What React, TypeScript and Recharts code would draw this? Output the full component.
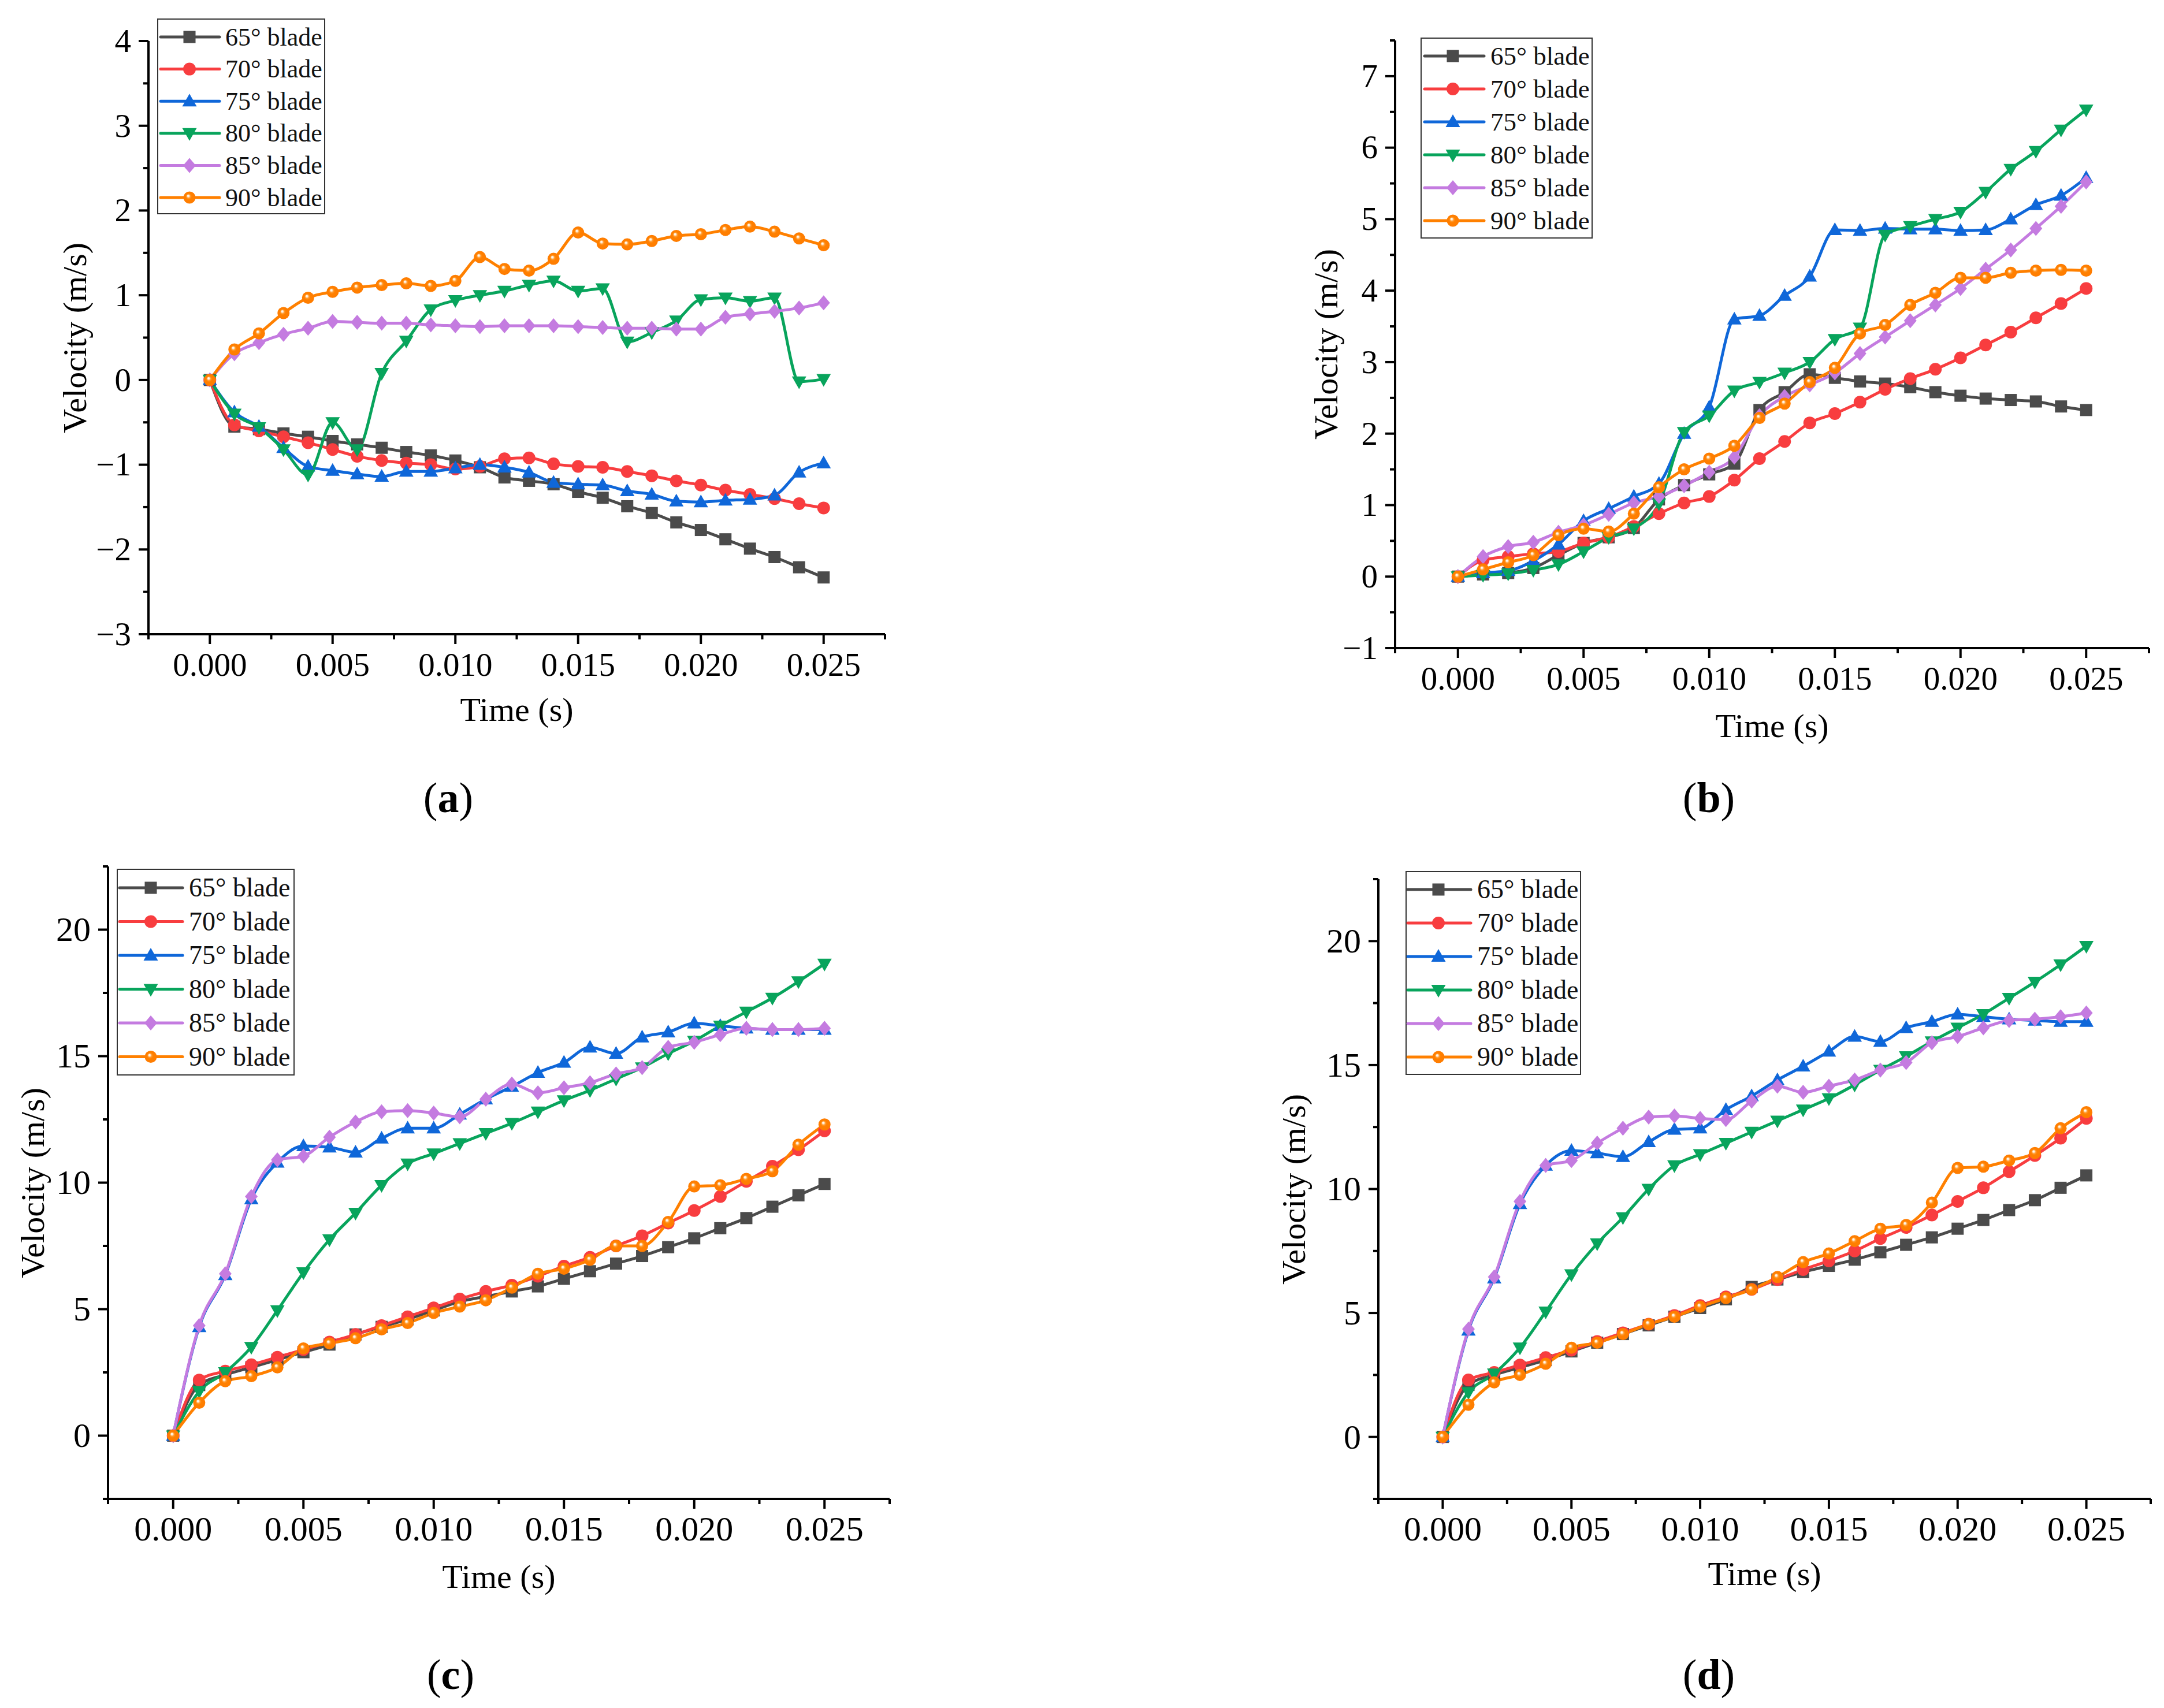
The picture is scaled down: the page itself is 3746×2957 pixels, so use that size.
import React from 'react';
import { LineChart, Line, XAxis, YAxis, Legend } from 'recharts';

// time samples (s)
const TIME = [
  0, 0.001, 0.002, 0.003, 0.004, 0.005, 0.006, 0.007, 0.008, 0.009, 0.01, 0.011, 0.012,
  0.013, 0.014, 0.015, 0.016, 0.017, 0.018, 0.019, 0.02, 0.021, 0.022, 0.023, 0.024, 0.025,
];

// panel (a)
const A65 = [0, -0.55, -0.58, -0.63, -0.67, -0.72, -0.76, -0.8, -0.85, -0.89, -0.95, -1.03, -1.15, -1.19, -1.23, -1.32, -1.39, -1.49, -1.57, -1.68, -1.77, -1.88, -1.99, -2.09, -2.21, -2.33];
const A70 = [0, -0.53, -0.6, -0.67, -0.74, -0.82, -0.9, -0.95, -0.98, -1.0, -1.05, -1.02, -0.93, -0.92, -0.99, -1.02, -1.03, -1.08, -1.13, -1.19, -1.24, -1.3, -1.35, -1.4, -1.46, -1.51];
const A75 = [0, -0.38, -0.55, -0.8, -1.02, -1.07, -1.11, -1.14, -1.08, -1.08, -1.04, -1.0, -1.03, -1.09, -1.21, -1.23, -1.24, -1.31, -1.35, -1.43, -1.44, -1.42, -1.41, -1.36, -1.09, -0.98];
const A80 = [0, -0.4, -0.56, -0.82, -1.12, -0.5, -0.82, 0.08, 0.46, 0.83, 0.94, 1.0, 1.05, 1.12, 1.17, 1.05, 1.08, 0.45, 0.56, 0.7, 0.95, 0.97, 0.93, 0.97, -0.02, 0.01];
const A85 = [0, 0.31, 0.44, 0.54, 0.61, 0.69, 0.68, 0.67, 0.67, 0.65, 0.64, 0.63, 0.64, 0.64, 0.64, 0.63, 0.62, 0.61, 0.61, 0.6, 0.6, 0.74, 0.78, 0.81, 0.85, 0.91];
const A90 = [0, 0.36, 0.55, 0.79, 0.97, 1.04, 1.09, 1.12, 1.14, 1.11, 1.17, 1.45, 1.31, 1.29, 1.43, 1.74, 1.61, 1.6, 1.64, 1.7, 1.72, 1.77, 1.81, 1.75, 1.67, 1.59];

// panel (b)
const B65 = [0, 0.03, 0.05, 0.12, 0.3, 0.47, 0.55, 0.68, 1.08, 1.28, 1.43, 1.58, 2.33, 2.58, 2.83, 2.78, 2.73, 2.7, 2.65, 2.58, 2.53, 2.49, 2.47, 2.45, 2.38, 2.33];
const B70 = [0, 0.23, 0.28, 0.32, 0.35, 0.47, 0.55, 0.7, 0.88, 1.03, 1.12, 1.35, 1.65, 1.89, 2.15, 2.28, 2.44, 2.62, 2.77, 2.9, 3.06, 3.24, 3.42, 3.62, 3.82, 4.03];
const B75 = [0, 0.05, 0.08, 0.22, 0.45, 0.78, 0.95, 1.12, 1.3, 2.0, 2.37, 3.6, 3.65, 3.93, 4.2, 4.85, 4.84, 4.87, 4.86, 4.86, 4.84, 4.85, 5.0, 5.2, 5.33, 5.58];
const B80 = [0, 0.02, 0.04, 0.09, 0.17, 0.35, 0.55, 0.67, 1.02, 2.02, 2.25, 2.6, 2.72, 2.85, 3.0, 3.32, 3.48, 4.78, 4.9, 5.0, 5.1, 5.38, 5.7, 5.95, 6.25, 6.53];
const B85 = [0, 0.28, 0.42, 0.48, 0.62, 0.72, 0.87, 1.03, 1.12, 1.27, 1.46, 1.67, 2.25, 2.52, 2.68, 2.85, 3.12, 3.35, 3.58, 3.8, 4.03, 4.3, 4.57, 4.87, 5.18, 5.52];
const B90 = [0, 0.1, 0.2, 0.3, 0.58, 0.67, 0.63, 0.88, 1.25, 1.5, 1.65, 1.83, 2.22, 2.42, 2.72, 2.92, 3.4, 3.52, 3.8, 3.97, 4.18, 4.18, 4.25, 4.28, 4.29, 4.28];

// panel (c)
const C65 = [0, 2.0, 2.4, 2.7, 3.0, 3.3, 3.6, 4.0, 4.3, 4.6, 4.95, 5.3, 5.5, 5.7, 5.9, 6.2, 6.5, 6.8, 7.1, 7.45, 7.8, 8.2, 8.6, 9.05, 9.5, 9.95];
const C70 = [0, 2.2, 2.55, 2.8, 3.1, 3.4, 3.7, 4.0, 4.35, 4.7, 5.05, 5.4, 5.7, 5.95, 6.3, 6.7, 7.05, 7.5, 7.9, 8.4, 8.9, 9.45, 10.05, 10.65, 11.3, 12.05];
const C75 = [0, 4.3, 6.35, 9.35, 10.8, 11.45, 11.4, 11.2, 11.75, 12.15, 12.15, 12.7, 13.3, 13.8, 14.35, 14.75, 15.35, 15.1, 15.75, 15.95, 16.3, 16.2, 16.1, 16.05, 16.05, 16.05];
const C80 = [0, 1.75, 2.5, 3.5, 4.95, 6.45, 7.75, 8.8, 9.9, 10.75, 11.15, 11.55, 11.95, 12.35, 12.8, 13.25, 13.65, 14.1, 14.55, 15.1, 15.6, 16.2, 16.75, 17.3, 17.95, 18.65];
const C85 = [0, 4.35, 6.4, 9.45, 10.9, 11.05, 11.8, 12.4, 12.8, 12.85, 12.75, 12.6, 13.3, 13.9, 13.55, 13.75, 13.95, 14.3, 14.55, 15.35, 15.55, 15.85, 16.1, 16.05, 16.05, 16.1];
const C90 = [0, 1.3, 2.15, 2.35, 2.7, 3.45, 3.65, 3.85, 4.2, 4.45, 4.85, 5.1, 5.35, 5.85, 6.4, 6.6, 6.95, 7.5, 7.5, 8.45, 9.85, 9.9, 10.15, 10.45, 11.5, 12.3];

// panel (d)
const D65 = [0, 2.1, 2.5, 2.8, 3.1, 3.45, 3.8, 4.15, 4.5, 4.85, 5.2, 5.55, 6.05, 6.35, 6.65, 6.9, 7.15, 7.45, 7.75, 8.05, 8.4, 8.75, 9.15, 9.55, 10.05, 10.55];
const D70 = [0, 2.3, 2.6, 2.9, 3.2, 3.5, 3.85, 4.2, 4.55, 4.9, 5.3, 5.65, 5.95, 6.35, 6.75, 7.1, 7.5, 8.0, 8.45, 8.95, 9.5, 10.05, 10.7, 11.35, 12.05, 12.85];
const D75 = [0, 4.3, 6.4, 9.4, 10.95, 11.55, 11.45, 11.3, 11.9, 12.4, 12.45, 13.2, 13.75, 14.4, 14.95, 15.55, 16.15, 15.95, 16.5, 16.75, 17.05, 16.95, 16.85, 16.8, 16.75, 16.75];
const D80 = [0, 1.8, 2.55, 3.6, 5.05, 6.55, 7.8, 8.85, 10.0, 10.95, 11.4, 11.85, 12.3, 12.75, 13.2, 13.65, 14.2, 14.8, 15.35, 15.95, 16.5, 17.05, 17.7, 18.35, 19.05, 19.8];
const D85 = [0, 4.35, 6.45, 9.5, 10.95, 11.15, 11.85, 12.45, 12.9, 12.95, 12.85, 12.8, 13.55, 14.15, 13.9, 14.15, 14.4, 14.8, 15.1, 15.9, 16.15, 16.5, 16.8, 16.85, 16.95, 17.1];
const D90 = [0, 1.3, 2.2, 2.5, 2.95, 3.6, 3.8, 4.15, 4.55, 4.85, 5.25, 5.6, 5.95, 6.45, 7.05, 7.4, 7.9, 8.4, 8.55, 9.45, 10.85, 10.9, 11.15, 11.45, 12.45, 13.1];

// axis ticks
const X_TICKS = [-0.0025, 0, 0.0025, 0.005, 0.0075, 0.01, 0.0125, 0.015, 0.0175, 0.02, 0.0225, 0.025, 0.0275];
const X_MAJOR = [0, 0.005, 0.01, 0.015, 0.02, 0.025];
const A_Y_TICKS = [-3, -2.5, -2, -1.5, -1, -0.5, 0, 0.5, 1, 1.5, 2, 2.5, 3, 3.5, 4];
const A_Y_MAJOR = [-3, -2, -1, 0, 1, 2, 3, 4];
const B_Y_TICKS = [-1, -0.5, 0, 0.5, 1, 1.5, 2, 2.5, 3, 3.5, 4, 4.5, 5, 5.5, 6, 6.5, 7, 7.5];
const B_Y_MAJOR = [-1, 0, 1, 2, 3, 4, 5, 6, 7];
const CD_Y_TICKS = [-2.5, 0, 2.5, 5, 7.5, 10, 12.5, 15, 17.5, 20, 22.5];
const CD_Y_MAJOR = [0, 5, 10, 15, 20];

const SERIES = [
  { key: 's65', name: '65° blade', color: '#4b4b4b', shape: 'square' },
  { key: 's70', name: '70° blade', color: '#f83d3f', shape: 'circle' },
  { key: 's75', name: '75° blade', color: '#0f67d9', shape: 'up' },
  { key: 's80', name: '80° blade', color: '#08a45c', shape: 'down' },
  { key: 's85', name: '85° blade', color: '#c47be0', shape: 'diamond' },
  { key: 's90', name: '90° blade', color: '#ff8000', shape: 'ball' },
];

const FONT = "'Liberation Serif', 'Times New Roman', serif";

const rows = (s65, s70, s75, s80, s85, s90) =>
  TIME.map((t, i) => ({ t, s65: s65[i], s70: s70[i], s75: s75[i], s80: s80[i], s85: s85[i], s90: s90[i] }));

const PANELS = [
  {
    id: 'a',
    data: rows(A65, A70, A75, A80, A85, A90),
    yDomain: [-3, 4],
    yTicks: A_Y_TICKS,
    yMajor: A_Y_MAJOR,
    box: { x: 0, y: 0, w: 1560, h: 1300 },
    plot: { l: 257, t: 71, r: 1532, b: 1098 },
    font: 57,
    yTitleX: 130,
    xTitleY: 1229,
    caption: { x: 776, y: 1381 },
    legend: { x: 272, y: 32, w: 291, h: 339, row0: 32, gap: 55.6, l0: 6, l1: 108, m: 56, tx: 118, font: 44 },
  },
  {
    id: 'b',
    data: rows(B65, B70, B75, B80, B85, B90),
    yDomain: [-1, 7.5],
    yTicks: B_Y_TICKS,
    yMajor: B_Y_MAJOR,
    box: { x: 1880, y: 0, w: 1866, h: 1300 },
    plot: { l: 2415, t: 70, r: 3720, b: 1122 },
    font: 57,
    yTitleX: 2296,
    xTitleY: 1257,
    caption: { x: 2958, y: 1381 },
    legend: { x: 2459, y: 65, w: 298, h: 348, row0: 32, gap: 57, l0: 7, l1: 110, m: 56, tx: 121, font: 45 },
  },
  {
    id: 'c',
    data: rows(C65, C70, C75, C80, C85, C90),
    yDomain: [-2.5, 22.5],
    yTicks: CD_Y_TICKS,
    yMajor: CD_Y_MAJOR,
    box: { x: 0, y: 1450, w: 1560, h: 1250 },
    plot: { l: 187, t: 1500, r: 1540, b: 2595 },
    font: 60,
    yTitleX: 57,
    xTitleY: 2730,
    caption: { x: 780, y: 2899 },
    legend: { x: 202, y: 1504, w: 308, h: 358, row0: 33, gap: 58.5, l0: 5, l1: 114, m: 59, tx: 125, font: 46 },
  },
  {
    id: 'd',
    data: rows(D65, D70, D75, D80, D85, D90),
    yDomain: [-2.5, 22.5],
    yTicks: CD_Y_TICKS,
    yMajor: CD_Y_MAJOR,
    box: { x: 1880, y: 1450, w: 1866, h: 1250 },
    plot: { l: 2386, t: 1522, r: 3723, b: 2595 },
    font: 60,
    yTitleX: 2240,
    xTitleY: 2725,
    caption: { x: 2958, y: 2899 },
    legend: { x: 2433, y: 1508, w: 304, h: 353, row0: 32, gap: 58, l0: 4, l1: 113, m: 57, tx: 124, font: 46 },
  },
];

const X_AXIS_H = 100;

const isIn = (v: number, list: number[]) => list.some((m) => Math.abs(m - v) < 1e-9);

function Marker({ shape, color, cx, cy, ballId }: { shape: string; color: string; cx: number; cy: number; ballId: string }) {
  if (cx == null || cy == null) return null;
  switch (shape) {
    case 'square':
      return <rect x={cx - 10.5} y={cy - 10.5} width={21} height={21} fill={color} />;
    case 'circle':
      return <circle cx={cx} cy={cy} r={11} fill={color} />;
    case 'up':
      return <polygon points={`${cx},${cy - 13} ${cx - 12.5},${cy + 9} ${cx + 12.5},${cy + 9}`} fill={color} />;
    case 'down':
      return <polygon points={`${cx},${cy + 13} ${cx - 12.5},${cy - 9} ${cx + 12.5},${cy - 9}`} fill={color} />;
    case 'diamond':
      return <polygon points={`${cx},${cy - 13} ${cx + 11},${cy} ${cx},${cy + 13} ${cx - 11},${cy}`} fill={color} />;
    default:
      return <circle cx={cx} cy={cy} r={10.5} fill={`url(#${ballId})`} />;
  }
}

function BallGradient({ id }: { id: string }) {
  return (
    <radialGradient id={id} cx="0.5" cy="0.5" r="0.5" fx="0.38" fy="0.34">
      <stop offset="0%" stopColor="#ffffff" />
      <stop offset="14%" stopColor="#fff0dc" />
      <stop offset="32%" stopColor="#ff9a2e" />
      <stop offset="50%" stopColor="#ff8000" />
      <stop offset="100%" stopColor="#ff7c00" />
    </radialGradient>
  );
}

function LegendBox({ cfg, panelId }: { cfg: any; panelId: string }) {
  const ballId = `legball-${panelId}`;
  return (
    <svg width={cfg.w} height={cfg.h} style={{ display: 'block', overflow: 'visible' }}>
      <defs>
        <BallGradient id={ballId} />
      </defs>
      <rect x={1} y={1} width={cfg.w - 2} height={cfg.h - 2} fill="#fff" stroke="#333" strokeWidth={2} />
      {SERIES.map((s, i) => {
        const cy = cfg.row0 + i * cfg.gap;
        return (
          <g key={`leg-${panelId}-${s.key}`}>
            <line x1={cfg.l0} y1={cy} x2={cfg.l1} y2={cy} stroke={s.color} strokeWidth={5} strokeLinecap="round" />
            <Marker shape={s.shape} color={s.color} cx={cfg.m} cy={cy} ballId={ballId} />
            <text x={cfg.tx} y={cy + cfg.font * 0.33} fontSize={cfg.font} fontFamily={FONT} fill="#111">
              {s.name}
            </text>
          </g>
        );
      })}
    </svg>
  );
}

function Panel({ p }: { p: any }) {
  const yW = p.plot.l - p.box.x;
  const margin = {
    top: p.plot.t - p.box.y,
    right: p.box.x + p.box.w - p.plot.r,
    left: 0,
    bottom: p.box.y + p.box.h - p.plot.b - X_AXIS_H,
  };
  const ballId = `ball-${p.id}`;

  const XTick = (props: any) => {
    const { x, y, payload } = props;
    const major = isIn(payload.value, X_MAJOR);
    return (
      <g>
        <line x1={x} y1={y} x2={x} y2={y + (major ? 17 : 9)} stroke="#000" strokeWidth={4} />
        {major && (
          <text x={x} y={y + 72} textAnchor="middle" fontSize={p.font} fontFamily={FONT} fill="#000">
            {payload.value.toFixed(3)}
          </text>
        )}
      </g>
    );
  };

  const YTick = (props: any) => {
    const { x, y, payload } = props;
    const v = payload.value;
    const major = isIn(v, p.yMajor);
    const label = v < 0 ? `\u2212${Math.abs(v)}` : `${v}`;
    return (
      <g>
        <line x1={x} y1={y} x2={x - (major ? 17 : 9)} y2={y} stroke="#000" strokeWidth={4} />
        {major && (
          <text x={x - 30} y={y + p.font * 0.33} textAnchor="end" fontSize={p.font} fontFamily={FONT} fill="#000">
            {label}
          </text>
        )}
      </g>
    );
  };

  const lg = p.legend;

  return (
    <div style={{ position: 'absolute', left: p.box.x, top: p.box.y }}>
      <LineChart width={p.box.w} height={p.box.h} data={p.data} margin={margin}>
        <defs>
          <BallGradient id={ballId} />
        </defs>
        <XAxis
          type="number"
          dataKey="t"
          domain={[-0.0025, 0.0275]}
          ticks={X_TICKS}
          interval={0}
          allowDataOverflow
          height={X_AXIS_H}
          tickSize={0}
          tickMargin={0}
          tickLine={false}
          axisLine={{ stroke: '#000', strokeWidth: 4 }}
          tick={XTick}
        />
        <YAxis
          type="number"
          domain={p.yDomain}
          ticks={p.yTicks}
          interval={0}
          allowDataOverflow
          width={yW}
          tickSize={0}
          tickMargin={0}
          tickLine={false}
          axisLine={{ stroke: '#000', strokeWidth: 4 }}
          tick={YTick}
        />
        <Legend
          layout="horizontal"
          verticalAlign="middle"
          align="center"
          wrapperStyle={{ position: 'absolute', left: lg.x - p.box.x, top: lg.y - p.box.y, width: lg.w, height: lg.h }}
          content={() => <LegendBox cfg={lg} panelId={p.id} />}
        />
        {SERIES.map((s) => (
          <Line
            key={`${p.id}-${s.key}`}
            type="monotone"
            dataKey={s.key}
            name={s.name}
            stroke={s.color}
            strokeWidth={5}
            isAnimationActive={false}
            activeDot={false}
            dot={(dp: any) => (
              <Marker key={`${p.id}-${s.key}-${dp.index}`} shape={s.shape} color={s.color} cx={dp.cx} cy={dp.cy} ballId={ballId} />
            )}
          />
        ))}
      </LineChart>
    </div>
  );
}

export default function App() {
  return (
    <div style={{ position: 'absolute', left: 0, top: 0, width: 3746, height: 2957, background: '#fff', fontFamily: FONT }}>
      {PANELS.map((p) => (
        <Panel key={`panel-${p.id}`} p={p} />
      ))}
      {PANELS.map((p) => {
        const cx = (p.plot.l + p.plot.r) / 2;
        const cy = (p.plot.t + p.plot.b) / 2;
        return (
          <React.Fragment key={`titles-${p.id}`}>
            <div
              style={{
                position: 'absolute',
                left: cx - 300,
                top: p.xTitleY - 40,
                width: 600,
                height: 80,
                lineHeight: '80px',
                textAlign: 'center',
                fontSize: 58,
                color: '#000',
              }}
            >
              Time (s)
            </div>
            <div
              style={{
                position: 'absolute',
                left: p.yTitleX - 300,
                top: cy - 40,
                width: 600,
                height: 80,
                lineHeight: '80px',
                textAlign: 'center',
                fontSize: 58,
                color: '#000',
                transform: 'rotate(-90deg)',
              }}
            >
              Velocity (m/s)
            </div>
            <div
              style={{
                position: 'absolute',
                left: p.caption.x - 100,
                top: p.caption.y - 50,
                width: 200,
                height: 100,
                lineHeight: '100px',
                textAlign: 'center',
                fontSize: 74,
                color: '#000',
              }}
            >
              (<b>{p.id}</b>)
            </div>
          </React.Fragment>
        );
      })}
    </div>
  );
}
